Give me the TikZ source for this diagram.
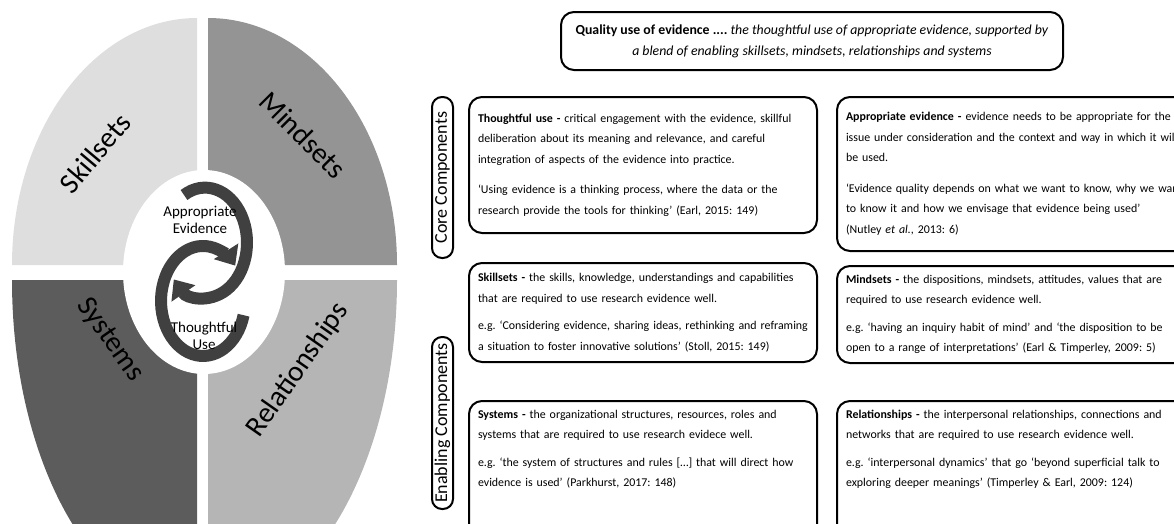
\documentclass[tikz,border=0pt]{standalone}
\usepackage{fontspec}
\setmainfont{Carlito}
\usepackage{tikz}
\usetikzlibrary{arrows.meta}
\frenchspacing

\definecolor{skillgray}{gray}{0.87}
\definecolor{mindgray}{gray}{0.58}
\definecolor{sysgray}{gray}{0.36}
\definecolor{relgray}{gray}{0.71}
\definecolor{arrowgray}{gray}{0.25}

\begin{document}
\begin{tikzpicture}[x=1pt, y=-1pt,
        wheeltext/.style={font=\fontsize{29}{30}\selectfont, inner sep=0pt},
        hubtext/.style={font=\fontsize{15}{16.5}\selectfont, align=center, inner sep=0pt},
        turnarrow/.style={line width=12pt, draw=arrowgray, -{Triangle[width=28pt, length=17pt]}},
        infobox/.style={draw, line width=2pt, rounded corners=13pt, anchor=north west, text width=330pt, inner xsep=9pt, inner ysep=0pt, align=left, font=\fontsize{11.9}{20.5}\selectfont},
        sidelabel/.style={draw, line width=2pt, rounded corners=10pt, rotate=90, minimum height=21pt, inner sep=0pt, font=\fontsize{18}{18}\selectfont}]
    \useasboundingbox (0, 0) rectangle (1174, 523);
    \clip (0, 0) rectangle (1174, 523);

    % the wheel
    \fill[skillgray] (197, 265) -- (12, 265) arc[start angle=180, end angle=90, x radius=185pt, y radius=247pt] -- cycle;
    \fill[mindgray] (208, 265) -- (208, 18) arc[start angle=90, end angle=0, x radius=189pt, y radius=247pt] -- cycle;
    \fill[sysgray] (197, 280) -- (12, 280) arc[start angle=180, end angle=270, x radius=185pt, y radius=330pt] -- cycle;
    \fill[relgray] (208, 280) -- (397, 280) arc[start angle=0, end angle=-90, x radius=189pt, y radius=330pt] -- cycle;
    \fill[white] (204, 272) ellipse[x radius=81pt, y radius=102pt];

    \node[wheeltext, rotate=50] (skills) at (95, 153) {Skillsets};
    \node[wheeltext, rotate=-45] (minds) at (303, 135) {Mindsets};
    \node[wheeltext, rotate=-55] (systems) at (110, 340) {Systems};
    \node[wheeltext, rotate=55] (relations) at (298, 370) {Relationships};

    % hub arrows
    \coordinate (evidencestart) at (184, 195);
    \coordinate (usestart) at (243.6, 315.2);
    \draw[turnarrow] (evidencestart) arc[start angle=120, end angle=-138, x radius=42pt, y radius=55pt];
    \draw[turnarrow] (usestart) arc[start angle=-15, end angle=-320, x radius=42pt, y radius=55pt];
    \node[hubtext] (evidence) at (200, 220) {Appropriate\\Evidence};
    \node[hubtext] (use) at (204, 336) {Thoughtful\\Use};

    % summary
    \node[draw, line width=2pt, rounded corners=13pt, minimum width=502pt, minimum height=58pt, align=center, font=\fontsize{13.8}{21}\selectfont] (quality) at (812, 41)
        {\textbf{Quality use of evidence ....} \textit{the thoughtful use of appropriate evidence, supported by}\\
        \textit{a blend of enabling skillsets, mindsets, relationships and systems}};

    \node[sidelabel, minimum width=161pt] (core) at (442.5, 177.5) {Core Components};
    \node[sidelabel, minimum width=172pt] (enabling) at (442.5, 423) {Enabling Components};

    % core components
    \node[infobox, minimum height=136pt] (thoughtful) at (468, 96)
        {\textbf{Thoughtful use -} critical engagement with the evidence, skillful\\
        deliberation about its meaning and relevance, and careful\\
        integration of aspects of the evidence into practice.\\[10pt]
        ‘Using evidence is a thinking process, where the data or the\\
        research provide the tools for thinking’ (Earl, 2015: 149)};
    \node[infobox, text width=350pt, minimum height=154pt] (appropriate) at (836, 96)
        {\textbf{Appropriate evidence -} evidence needs to be appropriate for the\\
        issue under consideration and the context and way in which it will\\
        be used.\\[10pt]
        ‘Evidence quality depends on what we want to know, why we want\\
        to know it and how we envisage that evidence being used’\\
        (Nutley \textit{et al.}, 2013: 6)};

    % enabling components
    \node[infobox, minimum height=99pt] (skillbox) at (468, 262)
        {\textbf{Skillsets -} the skills, knowledge, understandings and capabilities\\
        that are required to use research evidence well.\\[7pt]
        e.g. ‘Considering evidence, sharing ideas, rethinking and reframing\\
        a situation to foster innovative solutions’ (Stoll, 2015: 149)};
    \node[infobox, text width=350pt, minimum height=97pt] (mindbox) at (836, 265)
        {\textbf{Mindsets -} the dispositions, mindsets, attitudes, values that are\\
        required to use research evidence well.\\[7pt]
        e.g. ‘having an inquiry habit of mind’ and ‘the disposition to be\\
        open to a range of interpretations’ (Earl \& Timperley, 2009: 5)};
    \node[infobox, inner ysep=9pt, text depth=120pt] (sysbox) at (468, 400)
        {\textbf{Systems -} the organizational structures, resources, roles and\\
        systems that are required to use research evidece well.\\[7pt]
        e.g. ‘the system of structures and rules […] that will direct how\\
        evidence is used’ (Parkhurst, 2017: 148)};
    \node[infobox, text width=350pt, inner ysep=9pt, text depth=120pt] (relbox) at (836, 400)
        {\textbf{Relationships -} the interpersonal relationships, connections and\\
        networks that are required to use research evidence well.\\[7pt]
        e.g. ‘interpersonal dynamics’ that go ‘beyond superficial talk to\\
        exploring deeper meanings’ (Timperley \& Earl, 2009: 124)};
\end{tikzpicture}
\end{document}
